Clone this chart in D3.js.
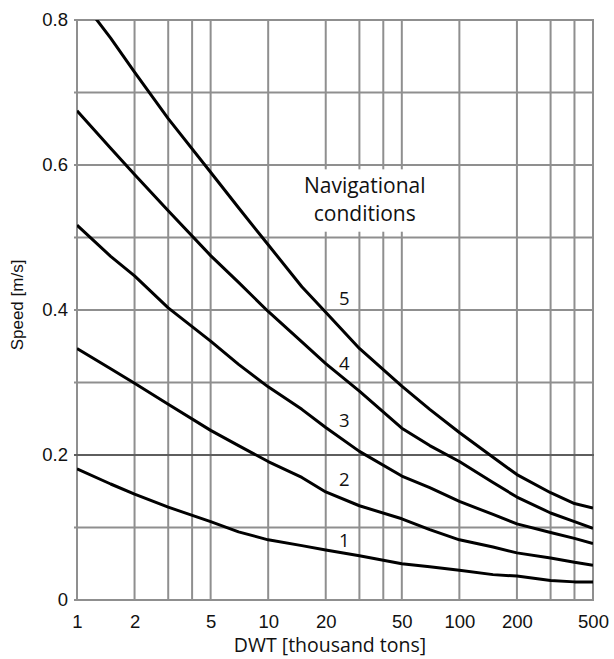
<!DOCTYPE html>
<html>
<head>
<meta charset="utf-8">
<script src="https://cdn.jsdelivr.net/npm/d3@7/dist/d3.min.js"></script>
<style>
  body { margin: 0; background: #fff; }
  .axis text { font-family: "Liberation Sans", Arial, sans-serif; font-size: 18.5px; fill: #111; }
  .axis-title { font-family: "Open Sans", sans-serif; font-size: 19.5px; fill: #111; }
  .y-title { font-family: "Liberation Sans", Arial, sans-serif; font-size: 17px; fill: #111; }
  .note { font-family: "Open Sans", sans-serif; font-size: 21px; fill: #111; }
  .curve-label { font-family: "Open Sans", sans-serif; font-size: 18.5px; fill: #111; }
</style>
</head>
<body>
<div class="speed-chart"></div>
<script>
// DATA
const dwt = [1, 1.5, 2, 3, 5, 7, 10, 15, 20, 30, 50, 70, 100, 150, 200, 300, 400, 500];
const speed1 = [0.181, 0.160, 0.146, 0.128, 0.108, 0.094, 0.083, 0.075, 0.069, 0.061, 0.050, 0.046, 0.041, 0.035, 0.033, 0.027, 0.025, 0.025];
const speed2 = [0.347, 0.319, 0.299, 0.270, 0.234, 0.213, 0.191, 0.169, 0.149, 0.130, 0.112, 0.097, 0.083, 0.073, 0.065, 0.058, 0.052, 0.048];
const speed3 = [0.517, 0.474, 0.447, 0.403, 0.357, 0.325, 0.294, 0.263, 0.238, 0.205, 0.171, 0.155, 0.136, 0.118, 0.105, 0.093, 0.085, 0.078];
const speed4 = [0.675, 0.623, 0.587, 0.537, 0.475, 0.438, 0.398, 0.356, 0.326, 0.288, 0.237, 0.213, 0.191, 0.162, 0.142, 0.120, 0.108, 0.099];
const speed5 = [0.836, 0.775, 0.728, 0.664, 0.590, 0.541, 0.490, 0.432, 0.397, 0.347, 0.295, 0.263, 0.231, 0.197, 0.173, 0.148, 0.133, 0.127];
const conditions = ["1", "2", "3", "4", "5"];
const labelDwt = 25;
const labelSpeed = [0.082, 0.167, 0.248, 0.327, 0.416];

const xTicks = [1, 2, 5, 10, 20, 50, 100, 200, 500];
const xGrid = [1, 2, 3, 4, 5, 10, 20, 30, 40, 50, 100, 200, 300, 400, 500];
const yTicks = [0, 0.2, 0.4, 0.6, 0.8];
const yGrid = [0, 0.1, 0.2, 0.3, 0.4, 0.5, 0.6, 0.7, 0.8];

const noteLines = ["Navigational", "conditions"];
const noteDwt = [10.3, 85];
const noteSpeed = [0.508, 0.594];

// Setup
const width = 614, height = 659;
const plotLeft = 77, plotRight = 593, plotTop = 20, plotBottom = 600;

const x = d3.scaleLog().domain([1, 500]).range([plotLeft, plotRight]);
const y = d3.scaleLinear().domain([0, 0.8]).range([plotBottom, plotTop]);

const svg = d3.select(".speed-chart")
  .append("svg")
  .attr("width", width)
  .attr("height", height);

svg.append("clipPath")
  .attr("id", "plot-clip")
  .append("rect")
  .attr("x", plotLeft).attr("y", plotTop)
  .attr("width", plotRight - plotLeft).attr("height", plotBottom - plotTop);

// GRID
const grid = svg.append("g").attr("class", "grid");

grid.selectAll(".v-line")
  .data(xGrid)
  .enter()
  .append("line")
  .attr("x1", d => x(d)).attr("x2", d => x(d))
  .attr("y1", plotTop).attr("y2", plotBottom)
  .attr("stroke", "#8f8f8f")
  .attr("stroke-width", 2);

grid.selectAll(".h-line")
  .data(yGrid)
  .enter()
  .append("line")
  .attr("x1", plotLeft - 3).attr("x2", plotRight + 1)
  .attr("y1", d => y(d)).attr("y2", d => y(d))
  .attr("stroke", d => d === 0.2 ? "#5e5e5e" : "#8f8f8f")
  .attr("stroke-width", 2);

// Legend note box
svg.append("rect")
  .attr("x", x(noteDwt[0]))
  .attr("y", y(noteSpeed[1]))
  .attr("width", x(noteDwt[1]) - x(noteDwt[0]))
  .attr("height", y(noteSpeed[0]) - y(noteSpeed[1]))
  .attr("fill", "#fff");

svg.selectAll(".note")
  .data(noteLines)
  .enter()
  .append("text")
  .attr("class", "note")
  .attr("text-anchor", "middle")
  .attr("x", x(32))
  .attr("y", (d, i) => y(0.561) + i * 28)
  .text(d => d);

// AXES
const yAxis = svg.append("g")
  .attr("class", "axis")
  .attr("transform", `translate(${plotLeft},0)`)
  .call(d3.axisLeft(y).tickValues(yTicks).tickSize(0).tickPadding(9)
    .tickFormat(d => d === 0 ? "0" : d3.format(".1f")(d)));
yAxis.select(".domain").remove();

const xAxis = svg.append("g")
  .attr("class", "axis")
  .attr("transform", `translate(0,${plotBottom})`)
  .call(d3.axisBottom(x).tickValues(xTicks).tickSize(0).tickPadding(15)
    .tickFormat(d3.format("d")));
xAxis.select(".domain").remove();

svg.append("text")
  .attr("class", "axis-title")
  .attr("text-anchor", "middle")
  .attr("x", 330)
  .attr("y", 652)
  .text("DWT [thousand tons]");

svg.append("text")
  .attr("class", "y-title")
  .attr("text-anchor", "middle")
  .attr("transform", "translate(23,305) rotate(-90)")
  .text("Speed [m/s]");

// CURVES
const series = [speed1, speed2, speed3, speed4, speed5];
const line = d3.line()
  .x(d => x(d[0]))
  .y(d => y(d[1]));

svg.append("g")
  .attr("clip-path", "url(#plot-clip)")
  .selectAll("path")
  .data(series)
  .enter()
  .append("path")
  .attr("d", s => line(dwt.map((d, i) => [d, s[i]])))
  .attr("fill", "none")
  .attr("stroke", "#000")
  .attr("stroke-width", 3)
  .attr("stroke-linejoin", "round");

svg.selectAll(".curve-label")
  .data(conditions)
  .enter()
  .append("text")
  .attr("class", "curve-label")
  .attr("text-anchor", "middle")
  .attr("dy", "0.36em")
  .attr("x", x(labelDwt))
  .attr("y", (d, i) => y(labelSpeed[i]))
  .text(d => d);
</script>
</body>
</html>
